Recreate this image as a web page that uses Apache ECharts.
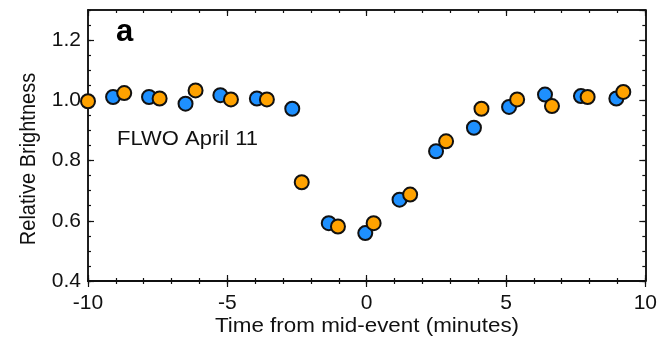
<!DOCTYPE html>
<html>
<head>
<meta charset="utf-8">
<script src="https://cdn.jsdelivr.net/npm/echarts@6/dist/echarts.min.js"></script>
<style>html,body{margin:0;padding:0;background:#fff}#c{width:660px;height:337px}</style>
</head>
<body>
<div id="c"></div>
<script>
// Data: [time from mid-event (min), relative brightness]
const blueTimes = [-9.10, -7.81, -6.50, -5.25, -3.94, -2.67, -1.36, -0.05, 1.18, 2.49, 3.85, 5.11, 6.40, 7.69, 8.96];
const blueValues = [1.011, 1.011, 0.989, 1.017, 1.006, 0.972, 0.592, 0.559, 0.670, 0.831, 0.909, 0.978, 1.019, 1.014, 1.006];
const orangeTimes = [-10.0, -8.70, -7.43, -6.14, -4.87, -3.58, -2.33, -1.03, 0.25, 1.56, 2.85, 4.12, 5.40, 6.65, 7.93, 9.21];
const orangeValues = [0.997, 1.024, 1.006, 1.033, 1.003, 1.003, 0.728, 0.581, 0.592, 0.687, 0.864, 0.972, 1.003, 0.981, 1.011, 1.028];
const xTickValues = [-10, -5, 0, 5, 10];
const yTickValues = [0.4, 0.6, 0.8, 1.0, 1.2];

const FONT = 'Liberation Sans, Arial, Helvetica, sans-serif';
const X_MIN = -10, X_MAX = 10, Y_MIN = 0.4, Y_MAX = 1.3;

function xAx(position, interval, inside, len, opts) {
  return Object.assign({
    type: 'value', min: X_MIN, max: X_MAX, interval: interval, position: position,
    axisLine: { show: true, onZero: false, lineStyle: { color: '#111', width: 1.5 } },
    axisTick: { show: true, inside: inside, length: len, lineStyle: { color: '#111', width: 1.2 } },
    axisLabel: { show: false },
    splitLine: { show: false }
  }, opts || {});
}
function yAx(position, interval, inside, len, opts) {
  return Object.assign({
    type: 'value', min: Y_MIN, max: Y_MAX, interval: interval, position: position,
    axisLine: { show: true, onZero: false, lineStyle: { color: '#111', width: 1.5 } },
    axisTick: { show: true, inside: inside, length: len, lineStyle: { color: '#111', width: 1.2 } },
    axisLabel: { show: false },
    splitLine: { show: false }
  }, opts || {});
}

const xAxes = [
  xAx('bottom', 5, false, 6, {
    axisLabel: { show: true, margin: 12, fontFamily: FONT, fontSize: 21, color: '#111',
      formatter: v => xTickValues.includes(v) ? String(v) : '' }
  }),
  xAx('bottom', 5, true, 6),
  xAx('bottom', 1, false, 3),
  xAx('bottom', 1, true, 3),
  xAx('top', 5, true, 6),
  xAx('top', 1, true, 3)
];
const yAxes = [
  yAx('left', 0.2, true, 6, {
    axisLabel: { show: true, margin: 7, fontFamily: FONT, fontSize: 21, color: '#111', showMaxLabel: false,
      formatter: v => yTickValues.some(t => Math.abs(t - v) < 1e-6) ? v.toFixed(1) : '' }
  }),
  yAx('left', 0.05, true, 3),
  yAx('right', 0.2, true, 6),
  yAx('right', 0.05, true, 3)
];

function pairs(xs, ys) { return xs.map((x, i) => [x, ys[i]]); }

const marker = (color) => ({ color: color, borderColor: '#111', borderWidth: 2, opacity: 1 });

const chart = echarts.init(document.getElementById('c'), null, { renderer: 'canvas' });
chart.setOption({
  animation: false,
  backgroundColor: '#fff',
  grid: { left: 88, right: 12, top: 10, bottom: 56, containLabel: false },
  xAxis: xAxes,
  yAxis: yAxes,
  graphic: [
    { type: 'text', x: 116, y: 17, style: { text: 'a', font: 'bold 31px ' + FONT, fill: '#000' } },
    { type: 'text', x: 117, y: 129, scaleX: 1.1, style: { text: 'FLWO April 11', font: '20px ' + FONT, fill: '#111' } },
    { type: 'text', x: 367, y: 326, scaleX: 1.12,
      style: { text: 'Time from mid-event (minutes)', font: '20px ' + FONT, fill: '#111', align: 'center', verticalAlign: 'middle' } },
    { type: 'text', x: 29, y: 159, rotation: Math.PI / 2, scaleY: 1.08,
      style: { text: 'Relative Brightness', font: '20px ' + FONT, fill: '#111', align: 'center', verticalAlign: 'middle' } }
  ],
  series: [
    { type: 'scatter', name: 'blue', xAxisIndex: 0, yAxisIndex: 0, symbol: 'circle', symbolSize: 14,
      data: pairs(blueTimes, blueValues), itemStyle: marker('#1e90ff'), clip: false, z: 3 },
    { type: 'scatter', name: 'orange', xAxisIndex: 0, yAxisIndex: 0, symbol: 'circle', symbolSize: 14,
      data: pairs(orangeTimes, orangeValues), itemStyle: marker('#ffa200'), clip: false, z: 4 }
  ]
});
</script>
</body>
</html>
